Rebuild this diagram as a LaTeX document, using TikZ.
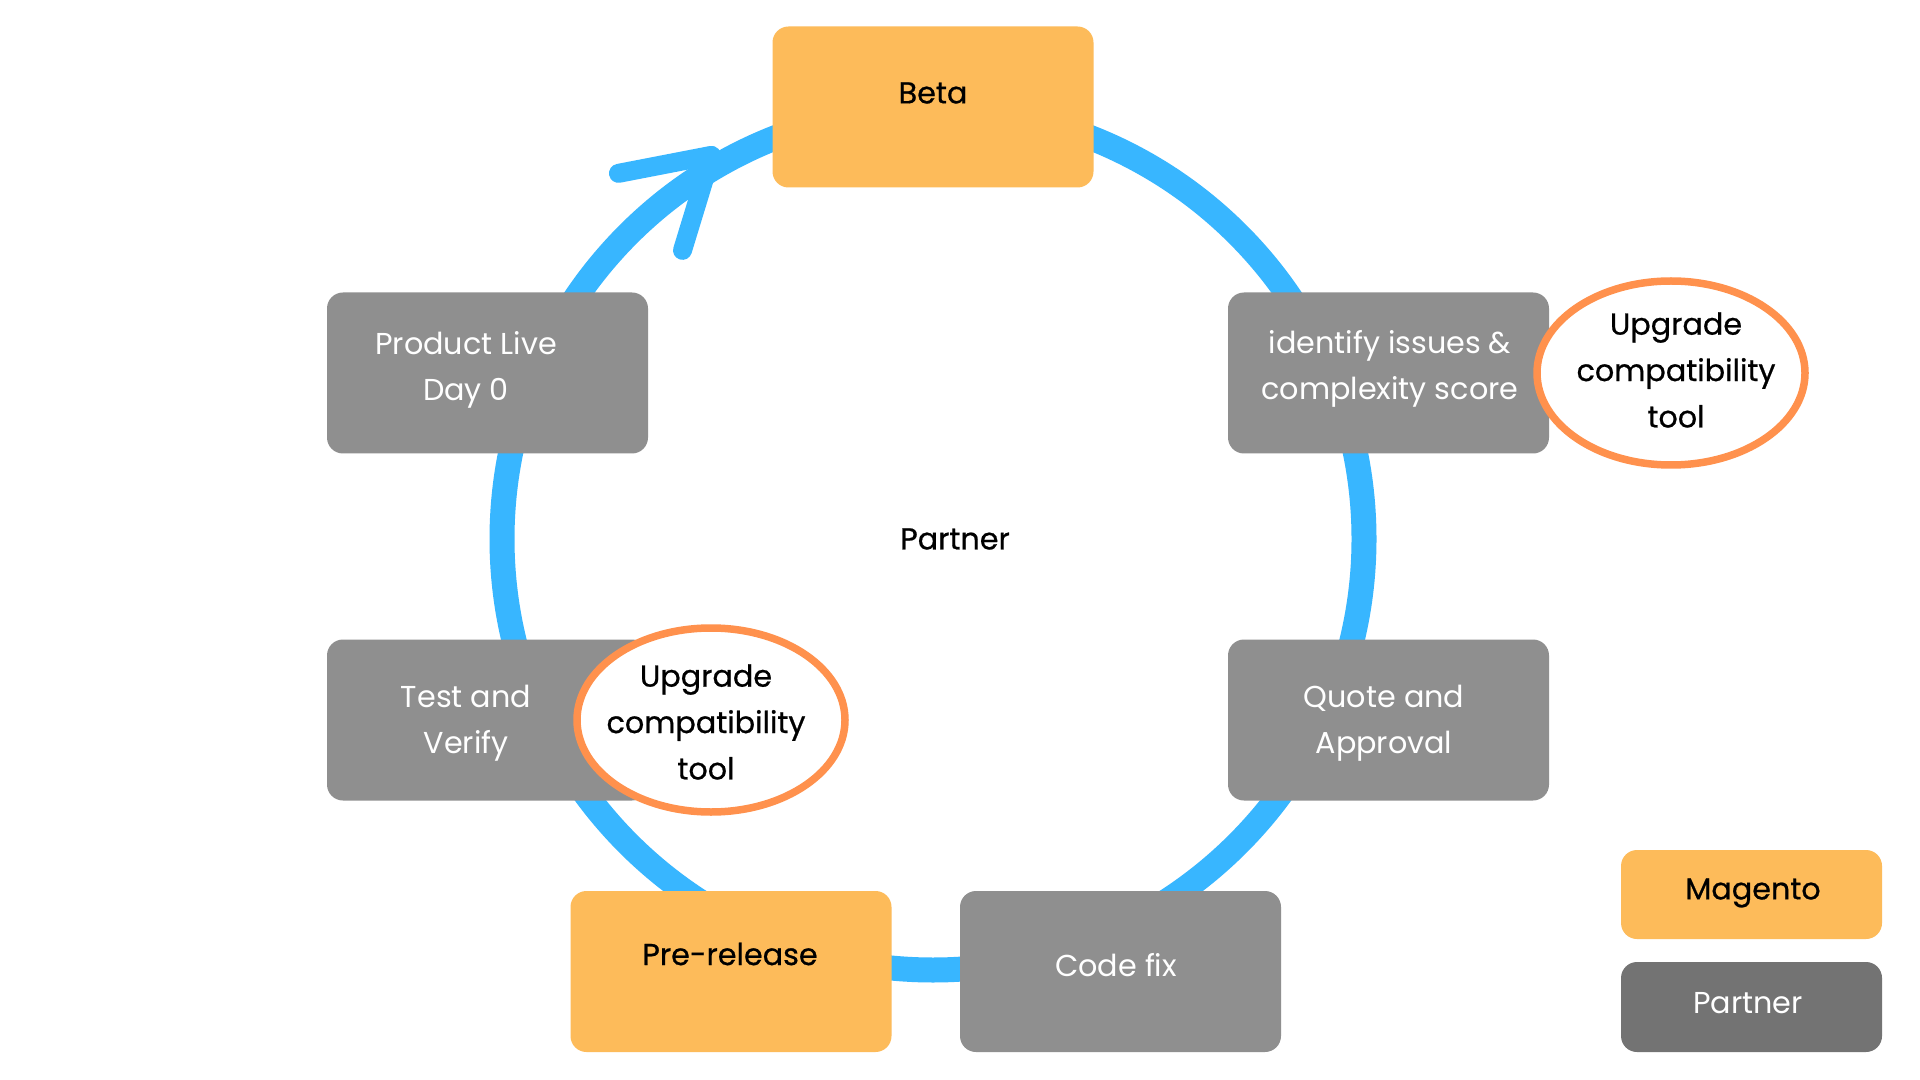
\documentclass[tikz,border=0pt]{standalone}
\usepackage{fontspec}
\setmainfont{Poppins}
\newfontfamily\inkbold[FakeBold=0.7]{Poppins}
\usetikzlibrary{positioning, calc, shapes.geometric}
\definecolor{magorange}{HTML}{FDBB5A}
\definecolor{partgray}{HTML}{8F8F8F}
\definecolor{partdark}{HTML}{737373}
\definecolor{cycleblue}{HTML}{38B6FF}
\definecolor{toolring}{HTML}{FF914D}
\newcommand{\labelsize}{\fontsize{8.6}{13.2}\selectfont}
\tikzset{
  stage/.style={rounded corners=1.6mm, minimum width=3.21cm,
    minimum height=1.61cm, inner sep=0pt},
  mag/.style={fill=magorange},
  part/.style={fill=partgray},
  mag text/.style={text=black, align=center, font=\labelsize\inkbold},
  part text/.style={text=white, align=center},
  tool/.style={ellipse, draw=toolring, line width=0.75mm, fill=white,
    minimum width=2.68cm, minimum height=1.84cm, inner sep=0pt},
}
% box plus its (slightly shifted) text
\newcommand{\stagebox}[5]{%
  \node[stage, #2] (#1) at (#3) {};
  \node[#2 text] (#1-t) at ($(#1)+(#4)$) {#5};}

\begin{document}
\begin{tikzpicture}[font=\labelsize]
  \useasboundingbox[fill=white] (0,0) rectangle (19.2,-10.8);
  % the cycle
  \coordinate (hub) at (9.33,-5.39);
  \draw[cycleblue, line width=2.5mm] (hub) circle (4.31);
  \coordinate (tip) at ($(hub)+(120:4.43)$);
  \coordinate (tail-a) at ($(tip)+(-0.93,-0.18)$);
  \coordinate (tail-b) at ($(tip)+(-0.29,-0.95)$);
  \draw[cycleblue, line width=1.9mm, line cap=round, line join=round]
    (tail-a) -- (tip) -- (tail-b);
  \node[mag text] (centre) at (9.55,-5.39) {Partner};

  \stagebox{beta}{mag}{9.33,-1.07}{0,0.14}{Beta}
  \stagebox{live}{part}{4.875,-3.73}{-0.215,0.03}{Product Live\\Day 0}
  \stagebox{ident}{part}{13.885,-3.73}{0.015,0.04}{identify issues \&\\complexity score}
  \stagebox{test}{part}{4.875,-7.20}{-0.215,-0.03}{Test and\\Verify}
  \stagebox{quote}{part}{13.885,-7.20}{-0.045,-0.03}{Quote and\\Approval}
  \stagebox{pre}{mag}{7.31,-9.715}{-0.01,0.175}{Pre-release}
  \stagebox{code}{part}{11.205,-9.715}{-0.045,0.065}{Code fix}

  % tool bubbles
  \node[tool] (tool-a) at (16.71,-3.73) {};
  \node[mag text] (tool-a-t) at ($(tool-a)+(0.05,0.03)$)
    {Upgrade\\compatibility\\tool};
  \node[tool] (tool-b) at (7.11,-7.20) {};
  \node[mag text] (tool-b-t) at ($(tool-b)+(-0.05,-0.02)$)
    {Upgrade\\compatibility\\tool};

  % legend
  \node[stage, mag, minimum width=2.61cm, minimum height=0.89cm] (key-mag) at (17.515,-8.945) {};
  \node[mag text] (key-mag-t) at ($(key-mag)+(0.015,0.015)$) {Magento};
  \node[stage, fill=partdark, minimum width=2.61cm, minimum height=0.90cm] (key-part) at (17.515,-10.07) {};
  \node[part text] (key-part-t) at ($(key-part)+(-0.035,0.04)$) {Partner};
\end{tikzpicture}
\end{document}
